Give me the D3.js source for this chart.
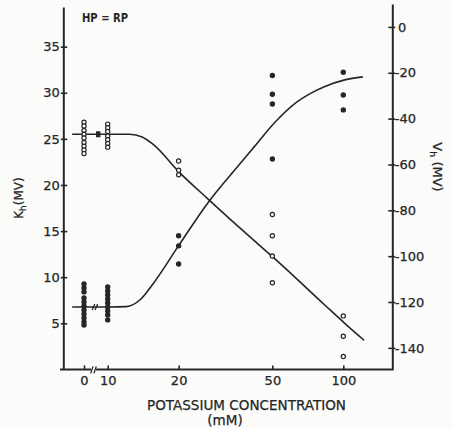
<!DOCTYPE html>
<html><head><meta charset="utf-8">
<script src="https://cdn.jsdelivr.net/npm/d3@7"></script>
<style>html,body{margin:0;padding:0;background:#fbfbf9;} svg{display:block;}</style>
</head><body><svg id="c" width="453" height="428"></svg>
<script>
// ---- data ----
const xTickValues = [0, 10, 20, 50, 100];
const xTickLabels = ["0", "10", "20", "50", "100"];
const khTicks = [5, 10, 15, 20, 25, 30, 35];
const vhTicks = [0, -20, -40, -60, -80, -100, -120, -140];

// open circles: K_h (left axis, mV)
const khConc = [0,0,0,0,0,0,0,0,0, 10,10,10,10,10,10,10, 20,20,20, 50,50,50,50, 100,100,100];
const khVals = [26.8,26.4,25.9,25.5,25.1,24.6,24.2,23.8,23.4,
                26.6,26.2,25.8,25.3,24.9,24.5,24.1,
                22.6,21.6,21.1,
                16.8,14.5,12.3,9.4,
                5.8,3.6,1.4];
// filled circles: V_h (right axis, mV)
const vhConc = [0,0,0,0,0,0,0,0,0,0,0, 10,10,10,10,10,10,10,10,10, 20,20,20, 50,50,50,50, 100,100,100];
const vhVals = [-112.1,-113.9,-115.6,-118.2,-120.0,-121.7,-123.5,-125.2,-127.0,-128.7,-130.0,
                -113.4,-115.2,-116.9,-118.7,-120.4,-122.2,-123.9,-125.7,-127.8,
                -91.1,-95.5,-103.4,
                -21.2,-29.4,-33.6,-57.6,
                -19.8,-29.7,-36.2];
// fitted curves
const khCurveConc = [-5, 0, 5, 10, 12.4, 14.0, 15.6, 20.1, 26.6, 42.1, 51.4, 83.6, 101.4, 122.6];
const khCurveVals = [25.5, 25.5, 25.5, 25.5, 25.5, 25.2, 24.4, 21.4, 18.5, 13.9, 11.96, 6.96, 5.0, 3.15];
const vhCurveConc = [-5, 0, 5, 10, 12.0, 13.8, 15.6, 20.1, 26.6, 34.6, 42.1, 51.4, 63.6, 72.0, 83.6, 101.4, 121.0];
const vhCurveVals = [-122.2, -122.2, -122.2, -122.2, -122.0, -118.8, -112.0, -95.1, -76.8, -62.4, -52.0, -41.5, -32.7, -29.2, -26.0, -23.1, -21.8];
// axis break positions (in low-segment concentration units)
const axisBreakConc = 4;
const vhBreakConc = 4.6;
const khBreakConc = 6;

// ---- layout ----
const INK = "#262626";
const BG = "#fbfbf9";
const FONT = "DejaVu Sans, sans-serif";
const leftX = 63.3, rightX = 392.3, bottomY = 369.4;

const svg = d3.select("#c");
svg.append("rect").attr("width", 453).attr("height", 428).attr("fill", BG);

const xLow = d3.scaleLinear().domain([0, 10]).range([84, 107.7]);
const xLog = d3.scaleLog().domain([10, 100]).range([107.7, 343.3]);
const xPos = v => v < 10 ? xLow(v) : xLog(v);

const yL = d3.scaleLinear().domain([0, 39.3]).range([bottomY, 7]);
const yR = d3.scaleLinear().domain([-149.4, 10]).range([bottomY, 4]);

// left axis
const gL = svg.append("g").attr("transform", `translate(${leftX},0)`)
  .call(d3.axisLeft(yL).tickValues(khTicks).tickSizeInner(-4).tickSizeOuter(0).tickPadding(3.5));
gL.selectAll(".tick line").attr("x1", -2.5);
// right axis
const gR = svg.append("g").attr("transform", `translate(${rightX},0)`)
  .call(d3.axisRight(yR).tickValues(vhTicks).tickSizeInner(3).tickSizeOuter(0).tickPadding(2.7)
    .tickFormat(d => d < 0 ? "-" + Math.abs(d) : String(d)));
gR.selectAll(".tick line").attr("x1", -4);
gR.selectAll(".tick text").attr("x", d => d < 0 ? 2.5 : 5.7);

// bottom axis ticks (two segments)
const tickFmt = d => xTickLabels[xTickValues.indexOf(d)];
const gB1 = svg.append("g").attr("transform", `translate(0,${bottomY})`)
  .call(d3.axisBottom(xLow).tickValues(xTickValues.filter(v => v < 10)).tickSizeInner(-4).tickSizeOuter(0).tickPadding(6.2).tickFormat(tickFmt));
const gB2 = svg.append("g").attr("transform", `translate(0,${bottomY})`)
  .call(d3.axisBottom(xLog).tickValues(xTickValues.filter(v => v >= 10)).tickSizeInner(-4).tickSizeOuter(0).tickPadding(6.2).tickFormat(tickFmt));
[gB1, gB2].forEach(g => g.select(".domain").remove());
svg.append("line").attr("x1", leftX - 3.3).attr("x2", rightX + 1)
  .attr("y1", bottomY).attr("y2", bottomY).attr("stroke", INK).attr("stroke-width", 2);

[gL, gR, gB1, gB2].forEach(g => {
  g.attr("font-family", FONT).attr("font-size", 13);
  g.selectAll("text").attr("fill", INK).attr("stroke", INK).attr("stroke-width", 0.25);
  g.selectAll("line").attr("stroke", INK).attr("stroke-width", 1.6);
  g.select(".domain").attr("stroke", INK).attr("stroke-width", 2);
});

// x-axis break
const bx = xLow(axisBreakConc);
svg.append("rect").attr("x", bx - 2.5).attr("y", bottomY - 2).attr("width", 5).attr("height", 4).attr("fill", BG);
[-1.6, 1.6].forEach(o => svg.append("line")
  .attr("x1", bx + o - 1.2).attr("y1", bottomY + 4)
  .attr("x2", bx + o + 1.2).attr("y2", bottomY - 3)
  .attr("stroke", INK).attr("stroke-width", 1.3));

// curves
const line = d3.line().curve(d3.curveMonotoneX);
svg.append("path")
  .attr("d", line(khCurveConc.map((c, i) => [xPos(c), yL(khCurveVals[i])])))
  .attr("fill", "none").attr("stroke", INK).attr("stroke-width", 1.6);
svg.append("path")
  .attr("d", line(vhCurveConc.map((c, i) => [xPos(c), yR(vhCurveVals[i])])))
  .attr("fill", "none").attr("stroke", INK).attr("stroke-width", 1.6);

// curve break marks
const vbx = xLow(vhBreakConc), vby = yR(vhCurveVals[0]);
[-1.4, 1.4].forEach(o => svg.append("line")
  .attr("x1", vbx + o - 1.3).attr("y1", vby + 3)
  .attr("x2", vbx + o + 1.3).attr("y2", vby - 3)
  .attr("stroke", INK).attr("stroke-width", 1.3));
const kbx = xLow(khBreakConc), kby = yL(khCurveVals[0]);
svg.append("rect").attr("x", kbx - 2.2).attr("y", kby - 3).attr("width", 4.4).attr("height", 6).attr("fill", INK);

// points
svg.append("g").selectAll("circle").data(khConc).join("circle")
  .attr("cx", (c) => xPos(c)).attr("cy", (c, i) => yL(khVals[i]))
  .attr("r", 2.1).attr("fill", BG).attr("stroke", INK).attr("stroke-width", 1.2);
svg.append("g").selectAll("circle").data(vhConc).join("circle")
  .attr("cx", (c) => xPos(c)).attr("cy", (c, i) => yR(vhVals[i]))
  .attr("r", 2.7).attr("fill", INK);

// texts
svg.append("text").attr("x", 82).attr("y", 21.7).attr("font-family", FONT).attr("font-size", 12.5)
  .attr("font-weight", 600).attr("fill", INK).attr("textLength", 46).attr("lengthAdjust", "spacingAndGlyphs")
  .text("HP = RP");

svg.append("text").attr("x", 246.5).attr("y", 410).attr("text-anchor", "middle")
  .attr("font-family", FONT).attr("font-size", 13.5).attr("fill", INK).attr("stroke", INK).attr("stroke-width", 0.25)
  .attr("textLength", 199).attr("lengthAdjust", "spacingAndGlyphs")
  .text("POTASSIUM CONCENTRATION");
svg.append("text").attr("x", 225).attr("y", 425).attr("text-anchor", "middle")
  .attr("font-family", FONT).attr("font-size", 13.5).attr("fill", INK).attr("stroke", INK).attr("stroke-width", 0.25)
  .text("(mM)");

const kt = svg.append("text").attr("transform", "translate(22.5,198) rotate(-90)")
  .attr("text-anchor", "middle").attr("font-family", FONT).attr("font-size", 12).attr("fill", INK)
  .attr("stroke", INK).attr("stroke-width", 0.25);
kt.append("tspan").text("K");
kt.append("tspan").attr("font-size", 9).attr("dy", 3).text("h");
kt.append("tspan").attr("dy", -3).text("(MV)");

const vt = svg.append("text").attr("transform", "translate(432.5,167) rotate(90)")
  .attr("text-anchor", "middle").attr("font-family", FONT).attr("font-size", 13).attr("fill", INK)
  .attr("stroke", INK).attr("stroke-width", 0.25);
vt.append("tspan").text("V");
vt.append("tspan").attr("font-size", 9.5).attr("dy", 3).text("h");
vt.append("tspan").attr("dy", -3).text(" (MV)");
</script></body></html>
